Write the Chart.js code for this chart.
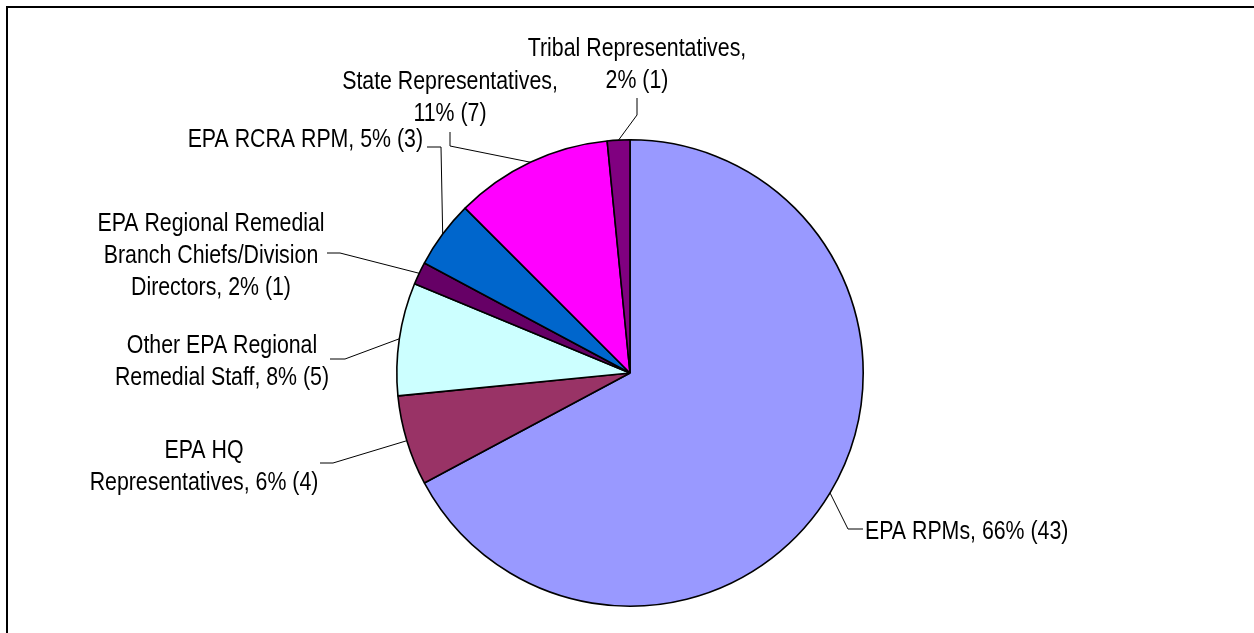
<!DOCTYPE html>
<html>
<head>
<meta charset="utf-8">
<script src="https://cdn.jsdelivr.net/npm/chart.js@4"></script>
<style>
  html, body { margin: 0; padding: 0; background: #fff; overflow: hidden; }
  #wrap { position: relative; width: 1254px; height: 633px; }
  #frame {
    position: absolute; left: 6px; top: 6px; width: 1260px; height: 640px;
    border-top: 2px solid #000; border-left: 2px solid #000;
  }
  canvas { position: absolute; left: 0; top: 0; }
</style>
</head>
<body>
<div id="wrap">
  <div id="frame"></div>
  <canvas id="myChart" width="1254" height="633"></canvas>
</div>
<script>
  // slices, in clockwise order from 12 o'clock
  const categories = [
    'EPA RPMs',
    'EPA HQ Representatives',
    'Other EPA Regional Remedial Staff',
    'EPA Regional Remedial Branch Chiefs/Division Directors',
    'EPA RCRA RPM',
    'State Representatives',
    'Tribal Representatives',
  ];
  const counts = [43, 4, 5, 1, 3, 7, 1];
  const percents = ['66%', '6%', '8%', '2%', '5%', '11%', '2%'];
  const sliceColors = ['#9999FF', '#993366', '#CCFFFF', '#660066', '#0066CC', '#FF00FF', '#800080'];

  // label text split into lines as in the original
  const tail = (i) => percents[i] + ' (' + counts[i] + ')';
  const labelLines = [
    ['EPA RPMs, ' + tail(0)],
    ['EPA HQ', 'Representatives, ' + tail(1)],
    ['Other EPA Regional', 'Remedial Staff, ' + tail(2)],
    ['EPA Regional Remedial', 'Branch Chiefs/Division', 'Directors, ' + tail(3)],
    ['EPA RCRA RPM, ' + tail(4)],
    ['State Representatives,', tail(5)],
    ['Tribal Representatives,', tail(6)],
  ];

  // where each label sits and how its leader line bends
  const labelLayout = [
    { align: 'left',   x: 865, y: 539, elbow: [848, 529], end: [863, 529] },
    { align: 'center', x: 204, y: 458, elbow: [333, 463], end: [320, 463] },
    { align: 'center', x: 222, y: 353, elbow: [345, 359], end: [330, 359] },
    { align: 'center', x: 211, y: 231, elbow: [340, 253], end: [327, 253] },
    { align: 'right',  x: 423, y: 147, elbow: [441, 147], end: [427, 147] },
    { align: 'center', x: 450, y: 89,  elbow: [450, 146], end: [450, 132] },
    { align: 'center', x: 637, y: 56,  elbow: [637, 115], end: [637, 98] },
  ];
  const lineHeight = 32;
  const fontSize = 26;

  // pick a condensed font if one is installed, else squeeze Liberation Sans
  function narrowFont() {
    const c = document.createElement('canvas').getContext('2d');
    const probe = 'EPA Regional Remedial 0123';
    c.font = fontSize + 'px monospace';
    const base = c.measureText(probe).width;
    for (const f of ['Liberation Sans Narrow', 'Arial Narrow']) {
      c.font = fontSize + 'px "' + f + '", monospace';
      if (Math.abs(c.measureText(probe).width - base) > 0.5) return { family: f, squeeze: 1 };
    }
    return { family: 'Liberation Sans', squeeze: 0.82 };
  }
  const labelFont = narrowFont();

  const pieLabels = {
    id: 'pieLabels',
    afterDraw(chart) {
      const ctx = chart.ctx;
      const arcs = chart.getDatasetMeta(0).data;
      ctx.save();
      arcs.forEach((arc, i) => {
        const p = arc.getProps(['x', 'y', 'startAngle', 'endAngle', 'outerRadius'], true);
        const mid = (p.startAngle + p.endAngle) / 2;
        const sx = p.x + Math.cos(mid) * p.outerRadius;
        const sy = p.y + Math.sin(mid) * p.outerRadius;
        const lay = labelLayout[i];

        ctx.strokeStyle = '#000';
        ctx.lineWidth = 1;
        ctx.beginPath();
        ctx.moveTo(sx, sy);
        ctx.lineTo(lay.elbow[0], lay.elbow[1]);
        ctx.lineTo(lay.end[0], lay.end[1]);
        ctx.stroke();

        ctx.fillStyle = '#000';
        ctx.font = fontSize + 'px "' + labelFont.family + '"';
        ctx.textBaseline = 'alphabetic';
        labelLines[i].forEach((line, k) => {
          ctx.save();
          ctx.translate(lay.x, lay.y + k * lineHeight);
          ctx.scale(labelFont.squeeze, 1);
          ctx.textAlign = lay.align;
          ctx.fillText(line, 0, 0);
          ctx.restore();
        });
      });
      ctx.restore();
    },
  };

  const ctx = document.getElementById('myChart');
  new Chart(ctx, {
    type: 'pie',
    data: {
      labels: categories,
      datasets: [
        {
          data: counts,
          backgroundColor: sliceColors,
          borderColor: '#000',
          borderWidth: 1.6,
        },
      ],
    },
    options: {
      responsive: false,
      animation: false,
      layout: { padding: { top: 139, bottom: 26, left: 396, right: 390 } },
      plugins: {
        legend: { display: false },
        tooltip: { enabled: false },
      },
    },
    plugins: [pieLabels],
  });
</script>
</body>
</html>
